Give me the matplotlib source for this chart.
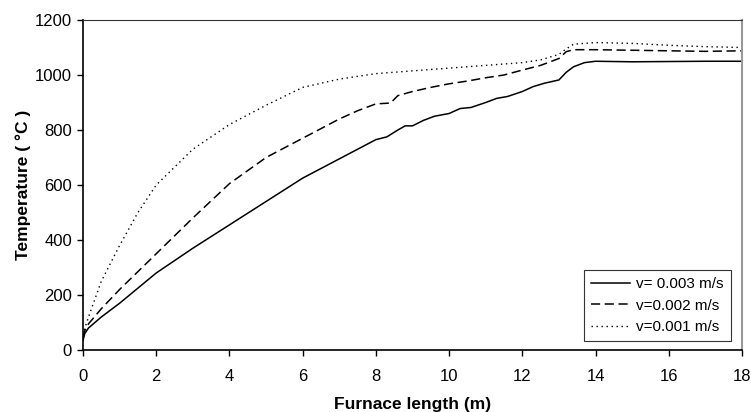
import numpy as np
import matplotlib
matplotlib.use("Agg")
import matplotlib.pyplot as plt

plt.rcParams['font.family'] = ['Liberation Sans', 'DejaVu Sans']

# furnace length (m) and temperature (C)
x_v3 = [0, 0.05, 0.15, 0.5, 1, 2, 3, 4, 5, 6, 6.5, 7, 7.5, 8, 8.3, 8.6, 8.8, 9.0, 9.3,
        9.6, 10, 10.3, 10.6, 11, 11.3, 11.6, 12, 12.3, 12.6, 13, 13.2, 13.4, 13.7, 14, 15, 16, 17, 18]
t_v3 = [35, 60, 80, 120, 170, 280, 370, 455, 540, 625, 660, 695, 730, 765, 775, 800, 815, 815, 835,
        850, 860, 878, 882, 900, 915, 922, 940, 958, 970, 982, 1010, 1030, 1045, 1050, 1048, 1049, 1050, 1050]

x_v2 = [0, 0.05, 0.15, 0.5, 1, 2, 3, 4, 5, 6, 7, 7.5, 8, 8.4, 8.6, 9, 9.5, 10, 10.5, 11,
        11.5, 12, 12.5, 13, 13.2, 13.4, 14, 15, 16, 17, 18]
t_v2 = [45, 70, 95, 150, 220, 350, 480, 605, 700, 770, 840, 870, 895, 898, 925, 940, 955, 968, 978, 990,
        1000, 1018, 1035, 1060, 1085, 1092, 1092, 1090, 1088, 1086, 1088]

x_v1 = [0, 0.05, 0.15, 0.5, 1, 1.5, 2, 3, 4, 5, 6, 7, 8, 9, 10, 11, 12, 12.5, 13, 13.2,
        13.4, 14, 15, 16, 17, 18]
t_v1 = [55, 80, 120, 250, 380, 500, 600, 730, 820, 890, 955, 985, 1005, 1015, 1025, 1035, 1045, 1055,
        1075, 1095, 1112, 1118, 1115, 1108, 1103, 1100]

labels = ["v= 0.003 m/s", "v=0.002 m/s", "v=0.001 m/s"]

fig = plt.figure(figsize=(7.51, 4.12), dpi=100)
ax = fig.add_axes([83 / 751, 62 / 412, 659 / 751, 330 / 412])

ax.plot(x_v3, t_v3, color="black", lw=1.1, ls="-", label=labels[0])
ax.plot(x_v2, t_v2, color="black", lw=1.1, ls=(0, (6, 3)), label=labels[1])
ax.plot(x_v1, t_v1, color="black", lw=1.0, ls=(0, (1.0, 2.6)), label=labels[2])

ax.set_xlim(0, 18)
ax.set_ylim(0, 1200)
ax.set_xticks(np.arange(0, 19, 2))
ax.set_yticks(np.arange(0, 1201, 200))
ax.tick_params(direction="out", length=4, width=1, labelsize=12)
ax.tick_params(axis="x", pad=10)
ax.tick_params(axis="y", pad=4)

for s in ["left", "bottom"]:
    ax.spines[s].set_color("black")
    ax.spines[s].set_linewidth(1.2)
ax.spines["top"].set_color("#333333")
ax.spines["right"].set_color("#999999")
ax.spines["right"].set_linewidth(1.5)

ax.set_xlabel("Furnace length (m)", fontsize=12.5, fontweight="bold", labelpad=9)
ax.set_ylabel("Temperature ( °C )", fontsize=12.5, fontweight="bold", labelpad=3)

leg = ax.legend(loc="lower right", fontsize=11, frameon=True, fancybox=False,
                edgecolor="black", handlelength=2.6, handletextpad=0.4,
                borderpad=0.45, labelspacing=0.5, borderaxespad=0,
                bbox_to_anchor=(0.983, 0.027))
leg.get_frame().set_linewidth(0.8)

fig.savefig("out.png", dpi=100)
